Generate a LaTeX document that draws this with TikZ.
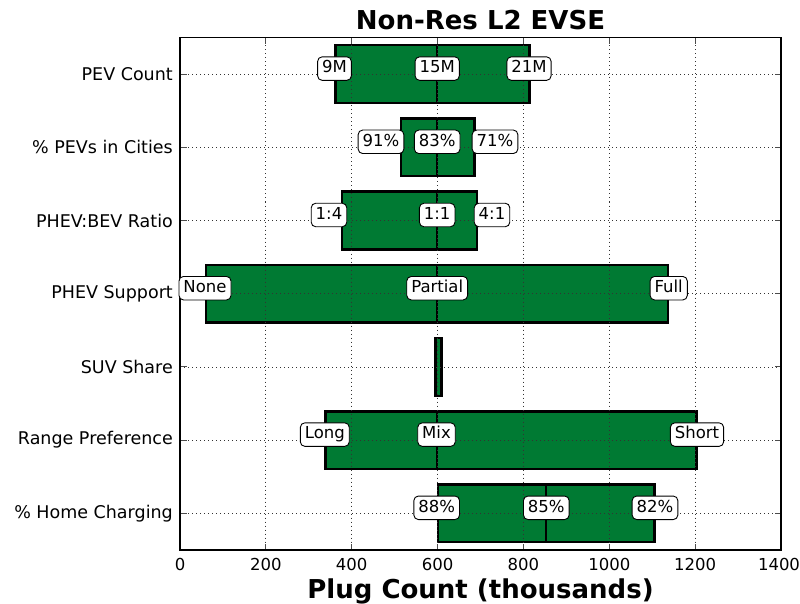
\documentclass[tikz,border=0pt]{standalone}
\usepackage{fontspec}
\setmainfont{DejaVu Sans}
\definecolor{bargreen}{RGB}{0,122,51}
\tikzset{
  barbox/.style={fill=bargreen, draw=black, line width=2.4pt},
  gridline/.style={black!80, line width=0.8pt, dash pattern=on 1pt off 3pt},
  vallabel/.style={draw=black, fill=white, line width=0.9pt, rounded corners=4.5pt,
    inner xsep=4.5pt, inner ysep=3.5pt, text height=12.5pt, text depth=4pt,
    font=\fontsize{16.5}{19}\selectfont},
  ticklabel/.style={font=\fontsize{16.5}{20}\selectfont, inner sep=0pt},
  ylabeltext/.style={font=\fontsize{17.5}{20}\selectfont, inner sep=0pt},
  bigbold/.style={inner sep=0pt, anchor=base, font=\fontsize{26}{30}\selectfont\bfseries},
  frameline/.style={draw=black, line width=1.4pt},
  tickmark/.style={black!70, line width=0.9pt},
}
\newcommand\tornadobar[4]{% yc, left, mid, right
  \draw[barbox] (#2,#1-28.8) rectangle (#3,#1+28.8);
  \draw[barbox] (#3,#1-28.8) rectangle (#4,#1+28.8);
}
\begin{document}
\begin{tikzpicture}[x=1pt,y=-1pt]
\useasboundingbox (0,0) rectangle (800,604);
% bars
\tornadobar{74.1}{335.5}{437.2}{529.5}
\tornadobar{147.3}{401.2}{437.2}{474.5}
\tornadobar{220.5}{342.2}{437.2}{477.1}
\tornadobar{293.7}{206.2}{437.2}{668.1}
\draw[barbox] (435.6,366.9-28.8) rectangle (441.4,366.9+28.8);
\tornadobar{440.1}{325.5}{437.2}{696.5}
\tornadobar{513.3}{437.8}{545.7}{654.5}
% grid
\foreach \gx in {265.86,351.71,437.57,523.43,609.29,695.14}
  \draw[gridline] (\gx,37.5) -- (\gx,550);
\foreach \gy in {74.1,147.3,220.5,293.7,366.9,440.1,513.3}
  \draw[gridline] (180,\gy) -- (781,\gy);
% ticks
\foreach \gx in {265.86,351.71,437.57,523.43,609.29,695.14} {
  \draw[tickmark] (\gx,550) -- (\gx,543.5);
  \draw[tickmark] (\gx,37.5) -- (\gx,44);
}
\foreach \gy in {74.1,147.3,220.5,293.7,366.9,440.1,513.3} {
  \draw[tickmark] (180,\gy) -- (186.5,\gy);
  \draw[tickmark] (781,\gy) -- (774.5,\gy);
}
% frame
\draw[frameline] (180,37.5) rectangle (781,550);
% y tick labels
\node[ylabeltext, anchor=east] (yl6) at (173,74.1) {PEV Count};
\node[ylabeltext, anchor=east] (yl5) at (173,147.3) {\% PEVs in Cities};
\node[ylabeltext, anchor=east] (yl4) at (173,220.5) {PHEV:BEV Ratio};
\node[ylabeltext, anchor=east] (yl3) at (173,293.7) {PHEV Support};
\node[ylabeltext, anchor=east] (yl2) at (173,366.9) {SUV Share};
\node[ylabeltext, anchor=east] (yl1) at (173,440.1) {Range Preference};
\node[ylabeltext, anchor=east] (yl0) at (173,513.3) {\% Home Charging};
% x tick labels
\foreach \gx/\t [count=\i] in {180/0,265.86/200,351.71/400,437.57/600,523.43/800,609.29/1000,695.14/1200,779/1400}
  \node[ticklabel, anchor=base] (xl\i) at (\gx,570) {\t};
% title and axis label
\node[bigbold] (title) at (480.5,29.5) {Non-Res L2 EVSE};
\node[bigbold] (xlabel) at (480.5,598.5) {Plug Count (thousands)};
% value labels
\node[vallabel] (a1) at (334.5,68.6) {9M};
\node[vallabel] (a2) at (437.2,68.6) {15M};
\node[vallabel] (a3) at (529,68.6) {21M};
\node[vallabel] (b1) at (381,141.8) {91\%};
\node[vallabel] (b2) at (437.2,141.8) {83\%};
\node[vallabel] (b3) at (495,141.8) {71\%};
\node[vallabel] (c1) at (329,215) {1:4};
\node[vallabel] (c2) at (437.2,215) {1:1};
\node[vallabel] (c3) at (492,215) {4:1};
\node[vallabel] (d1) at (205,288.2) {None};
\node[vallabel] (d2) at (437.2,288.2) {Partial};
\node[vallabel] (d3) at (668.7,288.2) {Full};
\node[vallabel] (e1) at (324.8,434.6) {Long};
\node[vallabel] (e2) at (436.5,434.6) {Mix};
\node[vallabel] (e3) at (697,434.6) {Short};
\node[vallabel] (f1) at (436.7,507.8) {88\%};
\node[vallabel] (f2) at (546.3,507.8) {85\%};
\node[vallabel] (f3) at (655,507.8) {82\%};
\end{tikzpicture}
\end{document}
